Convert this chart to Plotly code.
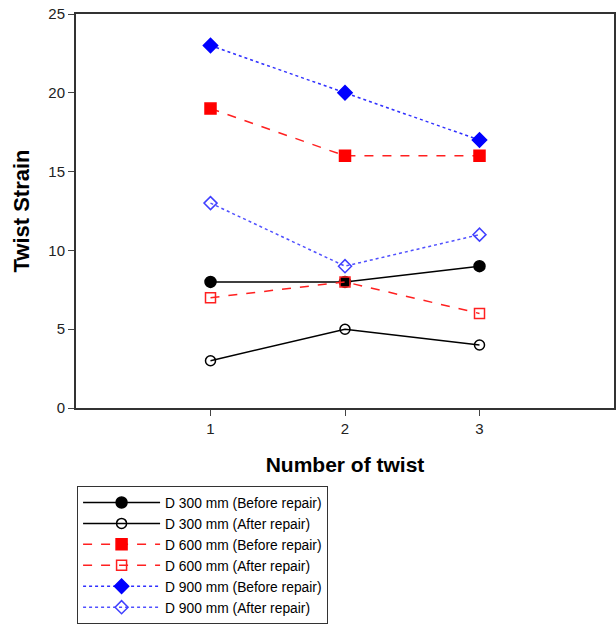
import plotly.graph_objects as go

twists = [1, 2, 3]
d300_before = [8, 8, 9]
d300_after = [3, 5, 4]
d600_before = [19, 16, 16]
d600_after = [7, 8, 6]
d900_before = [23, 20, 17]
d900_after = [13, 9, 11]

series = [
    ("D 300 mm (Before repair)", d300_before, "black", "solid", "circle", "black"),
    ("D 300 mm (After repair)", d300_after, "black", "solid", "circle-open", "black"),
    ("D 600 mm (Before repair)", d600_before, "#ff2020", "dash", "square", "#ff0000"),
    ("D 600 mm (After repair)", d600_after, "#ff2020", "dash", "square-open", "#ff2020"),
    ("D 900 mm (Before repair)", d900_before, "#3030ff", "dot", "diamond", "#0000ff"),
    ("D 900 mm (After repair)", d900_after, "#5050ff", "dot", "diamond-open", "#4040ff"),
]

fig = go.Figure()
for name, ys, lc, dash, sym, mc in series:
    fig.add_trace(go.Scatter(
        x=twists, y=ys, name=name, mode="lines+markers",
        line=dict(color=lc, dash=dash, width=1.5),
        marker=dict(symbol=sym, size=11 if "open" not in sym else 10, color=mc,
                    line=dict(color=mc, width=1.5)),
    ))

fig.update_layout(
    width=616, height=624,
    margin=dict(l=76, r=2, t=14, b=216, autoexpand=False),
    paper_bgcolor="white", plot_bgcolor="white",
    font=dict(family="Liberation Sans, Arial, sans-serif", color="#222"),
    xaxis=dict(
        range=[0, 4], tickvals=[1, 2, 3], ticks="outside", ticklen=6,
        showgrid=False, zeroline=False, showline=True, linecolor="#333", linewidth=2,
        mirror=True, tickfont=dict(size=15),
        title=dict(text="<b>Number of twist</b>", font=dict(size=21, color="black"), standoff=21),
    ),
    yaxis=dict(
        range=[0, 25], tickvals=[0, 5, 10, 15, 20, 25], ticks="outside", ticklen=6,
        showgrid=False, zeroline=False, showline=True, linecolor="#333", linewidth=2,
        mirror=True, tickfont=dict(size=15),
        title=dict(text="<b>Twist Strain</b>", font=dict(size=22, color="black"), standoff=13),
    ),
    legend=dict(
        x=0.002, y=-0.198, xanchor="left", yanchor="top",
        bordercolor="#333", borderwidth=1, bgcolor="white",
        font=dict(size=13.8, color="black"), itemwidth=77, tracegroupgap=0,
    ),
)

fig.write_html(
    "out.html",
    config={"displayModeBar": False},
    post_script="document.body.style.margin='0';document.body.style.overflow='hidden';",
)
